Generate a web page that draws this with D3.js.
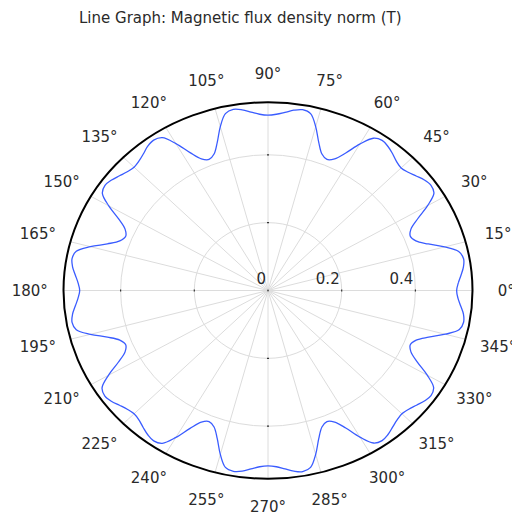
<!DOCTYPE html>
<html>
<head>
<meta charset="utf-8">
<script src="https://cdn.jsdelivr.net/npm/d3@7/dist/d3.min.js"></script>
<style>
  html, body { margin: 0; padding: 0; background: #fff; }
  svg { display: block; }
  text { font-family: "DejaVu Sans", sans-serif; fill: #2a2a2a; }
</style>
</head>
<body>
<svg id="chart" width="512" height="513"></svg>
<script>
// Polar line graph of the magnetic flux density norm (T) around the air gap.

const titleText = "Line Graph: Magnetic flux density norm (T)";

// Sample angles in degrees (every 2.5 degrees)
const angles = d3.range(0, 360, 2.5);

// |B| in tesla at each sample angle
const fluxNorm = [
  0.512, 0.517, 0.526, 0.535, 0.539, 0.530, 0.496, 0.456, 0.427, 0.418, 0.428, 0.458, 0.500, 0.534, 0.540, 0.535, 0.525, 0.516,
  0.511, 0.516, 0.526, 0.535, 0.540, 0.532, 0.498, 0.457, 0.428, 0.418, 0.428, 0.458, 0.500, 0.534, 0.541, 0.536, 0.527, 0.520,
  0.517, 0.520, 0.528, 0.537, 0.542, 0.534, 0.500, 0.458, 0.428, 0.418, 0.428, 0.458, 0.500, 0.534, 0.541, 0.536, 0.526, 0.518,
  0.514, 0.518, 0.526, 0.535, 0.540, 0.533, 0.499, 0.457, 0.428, 0.418, 0.428, 0.457, 0.499, 0.533, 0.540, 0.535, 0.525, 0.516,
  0.511, 0.516, 0.525, 0.535, 0.540, 0.533, 0.499, 0.457, 0.428, 0.418, 0.428, 0.458, 0.500, 0.534, 0.541, 0.536, 0.526, 0.518,
  0.514, 0.518, 0.527, 0.536, 0.541, 0.534, 0.500, 0.458, 0.428, 0.418, 0.428, 0.458, 0.500, 0.534, 0.541, 0.537, 0.528, 0.520,
  0.517, 0.520, 0.528, 0.537, 0.542, 0.534, 0.500, 0.458, 0.428, 0.418, 0.428, 0.457, 0.499, 0.533, 0.540, 0.535, 0.526, 0.518,
  0.514, 0.518, 0.526, 0.535, 0.540, 0.533, 0.499, 0.457, 0.428, 0.418, 0.428, 0.457, 0.498, 0.532, 0.539, 0.535, 0.525, 0.516
];

// Angular grid and label angles (degrees)
const spokeAngles = d3.range(0, 360, 15);
// Radial grid circles and tick labels
const radialTicks = [0.2, 0.4];
const radialLabels = ["0", "0.2", "0.4"];
const radialLabelValues = [0, 0.2, 0.4];
const rMax = 0.555;

const svg = d3.select("#chart");
const cx = 268, cy = 290.5;
const rx = 204.5, ry = 188.3;

// normalised radius (0..1) of the plot ellipse
const r = d3.scaleLinear().domain([0, rMax]).range([0, 1]);
const rad = d => d * Math.PI / 180;
const px = (a, v) => cx + rx * r(v) * Math.cos(rad(a));
const py = (a, v) => cy - ry * r(v) * Math.sin(rad(a));

// title
svg.append("text")
  .attr("x", 79).attr("y", 23)
  .attr("font-size", 15)
  .text(titleText);

const grid = svg.append("g").attr("stroke", "#dcdcdc").attr("stroke-width", 1).attr("fill", "none");

// spokes
grid.selectAll("line").data(spokeAngles).join("line")
  .attr("x1", cx).attr("y1", cy)
  .attr("x2", a => px(a, rMax)).attr("y2", a => py(a, rMax));

// grid circles
grid.selectAll("ellipse").data(radialTicks).join("ellipse")
  .attr("cx", cx).attr("cy", cy)
  .attr("rx", v => rx * r(v)).attr("ry", v => ry * r(v));

// small tick marks on the four main axes
const tickG = svg.append("g").attr("stroke", "#333").attr("stroke-width", 1.2);
[0, 90, 180, 270].forEach(a => {
  radialTicks.forEach(v => {
    const x = px(a, v), y = py(a, v);
    const tx = -Math.sin(rad(a)), ty = -Math.cos(rad(a));
    tickG.append("line")
      .attr("x1", x - tx).attr("y1", y - ty)
      .attr("x2", x + tx).attr("y2", y + ty);
  });
});
svg.append("circle").attr("cx", cx).attr("cy", cy).attr("r", 1).attr("fill", "#555");

// radial labels along the 0° axis
svg.selectAll("text.rlabel").data(radialLabelValues).join("text")
  .attr("class", "rlabel")
  .attr("x", v => px(0, v) - 2)
  .attr("y", cy - 7)
  .attr("text-anchor", "end")
  .attr("font-size", 15)
  .text((v, i) => radialLabels[i]);

// data curve
const pts = angles.map((a, i) => [a, fluxNorm[i]]);
const line = d3.line()
  .x(d => px(d[0], d[1]))
  .y(d => py(d[0], d[1]))
  .curve(d3.curveCatmullRomClosed.alpha(0.5));

svg.append("path")
  .datum(pts)
  .attr("d", line)
  .attr("fill", "none")
  .attr("stroke", "#3a5cff")
  .attr("stroke-width", 1.3);

// outer boundary
svg.append("ellipse")
  .attr("cx", cx).attr("cy", cy)
  .attr("rx", rx).attr("ry", ry)
  .attr("fill", "none")
  .attr("stroke", "#000")
  .attr("stroke-width", 2);

// angle labels, placed just outside the boundary
const labelScaleX = 1.165, labelScaleY = 1.15;
svg.selectAll("text.alabel").data(spokeAngles).join("text")
  .attr("class", "alabel")
  .attr("x", a => cx + labelScaleX * rx * Math.cos(rad(a)))
  .attr("y", a => cy - labelScaleY * ry * Math.sin(rad(a)))
  .attr("text-anchor", "middle")
  .attr("dominant-baseline", "central")
  .attr("font-size", 15)
  .text(a => a + "°");
</script>
</body>
</html>
